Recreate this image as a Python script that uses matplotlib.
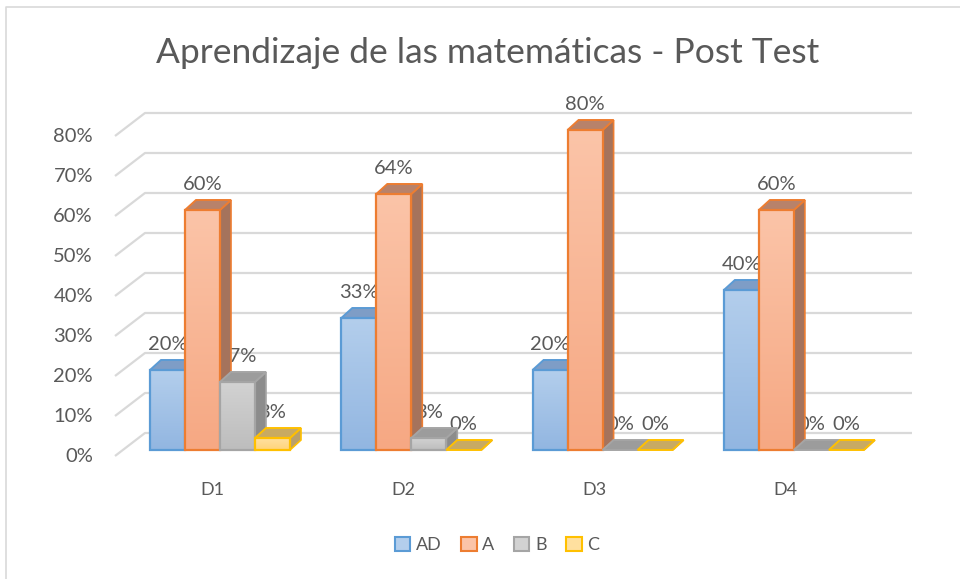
#!/usr/bin/env python3
"""Excel-style 3D clustered column chart: Aprendizaje de las matemáticas - Post Test."""
import numpy as np
import matplotlib
matplotlib.use("Agg")
import matplotlib.pyplot as plt
from matplotlib.patches import Polygon, Rectangle, Patch
from matplotlib.colors import to_rgb

categories = ["D1", "D2", "D3", "D4"]
series_names = ["AD", "A", "B", "C"]
values = {
    "AD": [20, 33, 20, 40],
    "A": [60, 64, 80, 60],
    "B": [17, 3, 0, 0],
    "C": [3, 0, 0, 0],
}
y_ticks = [0, 10, 20, 30, 40, 50, 60, 70, 80]

# face colours: front top, front bottom, edge, top face, side face
STYLES = {
    "AD": ("#B3CEEC", "#92B6E1", "#5B9BD5", "#7E9DC6", "#6F8DB6"),
    "A": ("#FBC4A8", "#F6A883", "#ED7D31", "#B8826A", "#A5735C"),
    "B": ("#D2D2D2", "#BDBDBD", "#A5A5A5", "#9C9C9C", "#8C8C8C"),
    "C": ("#FFE09F", "#FFD47A", "#FFC000", "#C8AA62", "#B9A06C"),
}

TEXT = "#595959"
GRID = "#D9D9D9"
FONT = "Lato"

W, H, DPI = 960, 579, 100
PX_X = 191.3          # pixels per category
PX_Y = 4.0            # pixels per percent
X0_PX, Y0_PX = 220, 450   # first group centre / bar baseline in pixels

BAR_W = 35 / PX_X
BAR_DX, BAR_DY = 11 / PX_X, 10 / PX_Y
FLOOR_FRONT = (-8 / PX_X, -1.5)
FLOOR_BACK = (22 / PX_X, 4.25)
GRID_LEFT = (115 - X0_PX) / PX_X
GRID_RIGHT = (912 - X0_PX) / PX_X


def px_to_data(px, py):
    return (px - X0_PX) / PX_X, (Y0_PX - py) / PX_Y


fig = plt.figure(figsize=(W / DPI, H / DPI), dpi=DPI)
ax = fig.add_axes([0, 0, 1, 1])
ax.set_axis_off()

# gridlines: diagonal on the left wall, then straight along the back wall
for t in y_ticks:
    fx = GRID_LEFT
    fy = t + FLOOR_FRONT[1]
    bx = GRID_LEFT + (FLOOR_BACK[0] - FLOOR_FRONT[0])
    by = t + FLOOR_BACK[1]
    ax.plot([fx, bx, GRID_RIGHT], [fy, by, by], color=GRID, lw=1.6,
            zorder=1, solid_capstyle="butt")
    ax.text(fx - 22 / PX_X, fy, f"{t}%", ha="right", va="center",
            fontsize=14.5, color=TEXT, family=FONT, zorder=1)

n = len(series_names)
grad = np.linspace(0, 1, 64).reshape(-1, 1)

for ci, cat in enumerate(categories):
    for si, name in enumerate(series_names):
        v = values[name][ci]
        ftop, fbot, edge, topc, sidec = STYLES[name]
        x0 = ci + (si - n / 2) * BAR_W
        x1 = x0 + BAR_W
        z = 3 + ci * n + si

        # side face
        side = Polygon([(x1, 0), (x1 + BAR_DX, BAR_DY), (x1 + BAR_DX, v + BAR_DY), (x1, v)],
                       closed=True, facecolor=sidec, edgecolor=edge if v > 0 else sidec,
                       lw=1.2, zorder=z)
        ax.add_patch(side)
        # top face
        top = Polygon([(x0, v), (x1, v), (x1 + BAR_DX, v + BAR_DY), (x0 + BAR_DX, v + BAR_DY)],
                      closed=True, facecolor=topc, edgecolor=edge, lw=1.4, zorder=z,
                      joinstyle="miter")
        ax.add_patch(top)
        # front face with a soft vertical gradient
        if v > 0:
            c0, c1 = np.array(to_rgb(ftop)), np.array(to_rgb(fbot))
            img = c0 + (c1 - c0) * grad[:, :, None]
            front = Rectangle((x0, 0), BAR_W, v, facecolor="none", edgecolor=edge,
                              lw=1.6, zorder=z + 0.2)
            ax.add_patch(front)
            im = ax.imshow(img, extent=(x0, x1, 0, v), origin="upper", aspect="auto",
                           zorder=z + 0.1, interpolation="bilinear")
            im.set_clip_path(front)

        # data label (drawn beneath the bars, as in the original)
        ax.text((x0 + x1) / 2, v + 6.5, f"{v}%", ha="center", va="center",
                fontsize=14.5, color=TEXT, family=FONT, zorder=2)

    ax.text(ci + FLOOR_FRONT[0], FLOOR_FRONT[1] - 8.5, cat, ha="center", va="center",
            fontsize=13, color=TEXT, family=FONT)

# title
tx, ty = px_to_data(488, 53)
ax.text(tx, ty, "Aprendizaje de las matemáticas - Post Test", ha="center", va="center",
        fontsize=25.5, color=TEXT, family=FONT)

# chart border (only top and left edges are inside the screenshot)
bx0, by0 = px_to_data(6, 7)
bx1, by1 = px_to_data(W, H)
ax.plot([bx0, bx0, bx1], [by1, by0, by0], color=GRID, lw=1.2, zorder=0)

ax.set_xlim(px_to_data(0, 0)[0], px_to_data(W, 0)[0])
ax.set_ylim(px_to_data(0, H)[1], px_to_data(0, 0)[1])

handles = [Patch(facecolor=STYLES[s][0], edgecolor=STYLES[s][2], lw=1.5, label=s)
           for s in series_names]
fig.legend(handles=handles, loc="center", bbox_to_anchor=(497 / W, 1 - 545 / H), ncol=4,
           frameon=False, handlelength=0.85, handleheight=0.85, handletextpad=0.3,
           columnspacing=1.1, prop={"family": FONT, "size": 13}, labelcolor=TEXT)

fig.savefig("out.png", dpi=DPI)
